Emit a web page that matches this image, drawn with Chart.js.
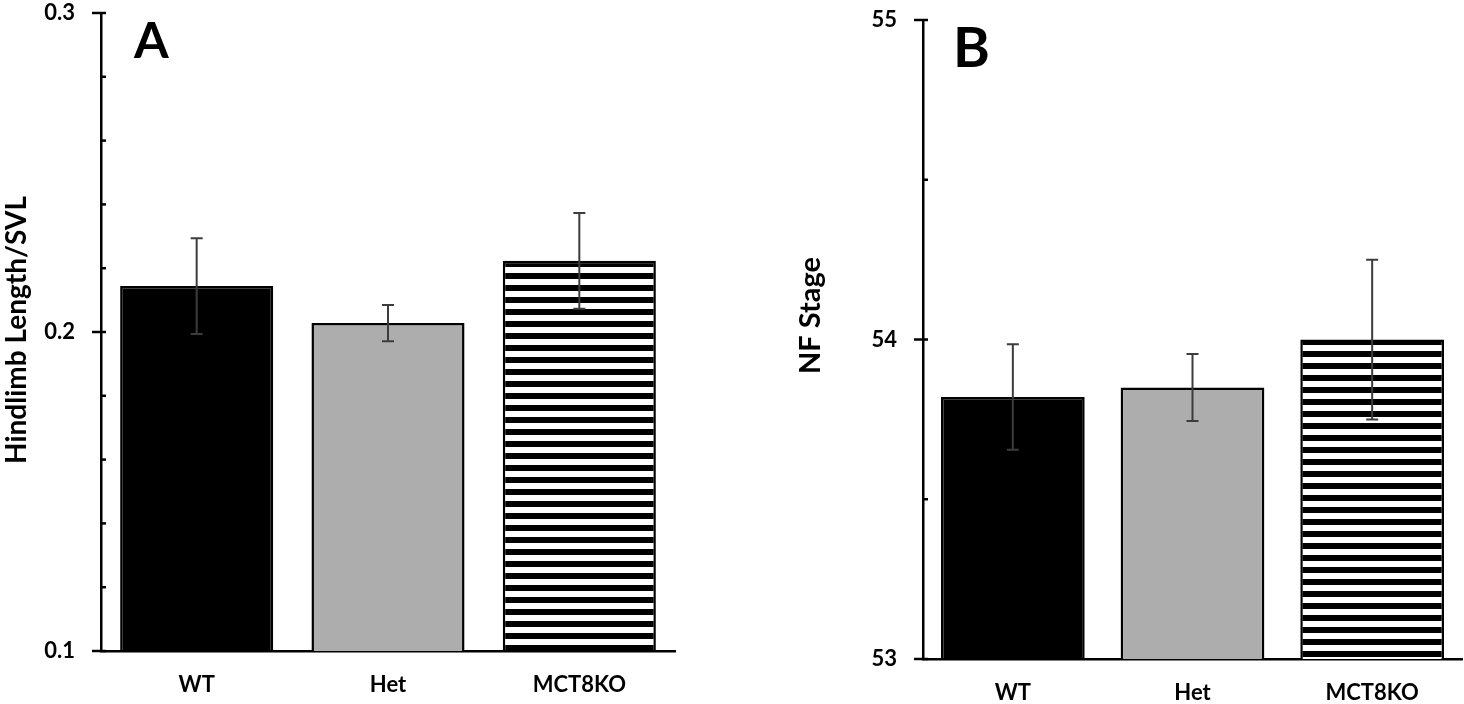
<!DOCTYPE html>
<html>
<head>
<meta charset="utf-8">
<script src="https://cdn.jsdelivr.net/npm/chart.js@4"></script>
<style>
  html, body { margin: 0; padding: 0; background: #fff; }
  body { width: 1464px; height: 704px; position: relative; overflow: hidden; font-family: Lato, sans-serif; }
  .panel { position: absolute; top: 0; height: 704px; }
  #panelA { left: 0; width: 676px; }
  #panelB { left: 794px; width: 670px; }
  .letter { position: absolute; font-weight: bold; line-height: 1; color: #000; }
</style>
</head>
<body>
<div class="panel" id="panelA"><canvas id="chartA"></canvas></div>
<div class="panel" id="panelB"><canvas id="chartB"></canvas></div>
<div class="letter" style="left:134px; top:14px; font-size:50px;">A</div>
<div class="letter" style="left:953px; top:18px; font-size:56px;">B</div>
<script>
const categories = ['WT', 'Het', 'MCT8KO'];

// panel A - hindlimb length / SVL
const hindlimbMean = [0.2144, 0.2028, 0.2223];
const hindlimbErr = [0.015, 0.0057, 0.015];
const hindlimbLabels = ['0.1', '0.2', '0.3'];

// panel B - NF stage
const stageMean = [53.82, 53.85, 54.0];
const stageErr = [0.165, 0.105, 0.25];
const stageLabels = ['53', '54', '55'];

function stripes(offset) {
    const c = document.createElement('canvas');
    c.width = 8; c.height = 12;
    const g = c.getContext('2d');
    g.fillStyle = '#fff';
    g.fillRect(0, 0, 8, 12);
    g.fillStyle = '#000';
    g.fillRect(0, 0, 8, 6);
    const p = g.createPattern(c, 'repeat');
    p.setTransform(new DOMMatrix().translate(0, offset));
    return p;
}

const errorBars = {
    id: 'errorBars',
    afterDatasetsDraw(chart, args, opts) {
        const ctx = chart.ctx;
        const y = chart.scales.y;
        const values = chart.data.datasets[0].data;
        ctx.save();
        ctx.strokeStyle = '#3c3c3c';
        ctx.lineWidth = 2;
        chart.getDatasetMeta(0).data.forEach((bar, i) => {
            const top = y.getPixelForValue(values[i] + opts.errors[i]);
            const bot = y.getPixelForValue(values[i] - opts.errors[i]);
            ctx.beginPath();
            ctx.moveTo(bar.x, top); ctx.lineTo(bar.x, bot);
            ctx.moveTo(bar.x - 6, top); ctx.lineTo(bar.x + 6, top);
            ctx.moveTo(bar.x - 6, bot); ctx.lineTo(bar.x + 6, bot);
            ctx.stroke();
        });
        ctx.restore();
    }
};

// labelled ticks cross the axis, the others only stick out to the right
const axisTicks = {
    id: 'axisTicks',
    afterDraw(chart) {
        const ctx = chart.ctx;
        const y = chart.scales.y;
        const x0 = y.right;
        ctx.save();
        ctx.strokeStyle = '#000';
        ctx.lineWidth = 2.5;
        y.ticks.forEach(t => {
            const py = y.getPixelForValue(t.value);
            ctx.beginPath();
            ctx.moveTo(t.label !== '' ? x0 - 9 : x0, py);
            ctx.lineTo(x0 + 5, py);
            ctx.stroke();
        });
        ctx.restore();
    }
};

const sideTitle = {
    id: 'sideTitle',
    afterDraw(chart, args, opts) {
        const ctx = chart.ctx;
        const a = chart.chartArea;
        ctx.save();
        ctx.translate(chart.scales.y.left + opts.x, (a.top + a.bottom) / 2 + opts.shift);
        ctx.rotate(-Math.PI / 2);
        ctx.font = 'bold ' + opts.size + 'px Lato';
        ctx.textAlign = 'center';
        ctx.textBaseline = 'middle';
        ctx.fillStyle = '#000';
        ctx.fillText(opts.text, 0, 0);
        ctx.restore();
    }
};

function makeChart(id, s) {
    const ctx = document.getElementById(id).getContext('2d');
    return new Chart(ctx, {
        type: 'bar',
        data: {
            labels: categories,
            datasets: [{
                data: s.values,
                backgroundColor: ['#000000', '#adadad', stripes(s.stripeOffset)],
                borderColor: '#000',
                borderWidth: 2.5,
                borderSkipped: 'start',
                barPercentage: 0.8,
                categoryPercentage: 1
            }]
        },
        options: {
            responsive: true,
            maintainAspectRatio: false,
            animation: false,
            layout: { padding: s.padding },
            plugins: {
                legend: { display: false },
                tooltip: { enabled: false },
                errorBars: { errors: s.errors },
                sideTitle: { text: s.title, x: 17, shift: s.titleShift, size: s.titleSize }
            },
            scales: {
                x: {
                    grid: { display: false },
                    border: { color: '#000', width: 2.5 },
                    ticks: {
                        color: '#000',
                        padding: 13,
                        font: { family: 'Lato', size: 22, weight: 'bold' }
                    },
                    afterFit(scale) { scale.height = s.xHeight; }
                },
                y: {
                    min: s.min,
                    max: s.max,
                    grid: { display: false },
                    border: { color: '#000', width: 2.5 },
                    ticks: {
                        stepSize: s.step,
                        autoSkip: false,
                        color: '#000',
                        padding: 18,
                        font: { family: 'Lato', size: 22, weight: 'bold' },
                        callback: function (v) {
                            const lab = s.labels.find(l => Math.abs(parseFloat(l) - v) < 1e-6);
                            return lab || '';
                        }
                    },
                    afterFit(scale) {
                        scale.width = s.yWidth;
                        scale.paddingTop = 0;
                        scale.paddingBottom = 0;
                    }
                }
            }
        },
        plugins: [errorBars, axisTicks, sideTitle]
    });
}

document.fonts.load('bold 22px Lato').then(function () {
    makeChart('chartA', {
        values: hindlimbMean, errors: hindlimbErr, labels: hindlimbLabels,
        min: 0.1, max: 0.3, step: 0.02,
        title: 'Hindlimb Length/SVL', titleShift: -2, titleSize: 28,
        padding: { top: 13, right: 1, left: 0, bottom: 0 },
        yWidth: 101, xHeight: 53, stripeOffset: 9
    });
    makeChart('chartB', {
        values: stageMean, errors: stageErr, labels: stageLabels,
        min: 53, max: 55, step: 0.5,
        title: 'NF Stage', titleShift: -24, titleSize: 29,
        padding: { top: 20, right: 2, left: 0, bottom: 0 },
        yWidth: 129, xHeight: 45, stripeOffset: 3
    });
});
</script>
</body>
</html>
